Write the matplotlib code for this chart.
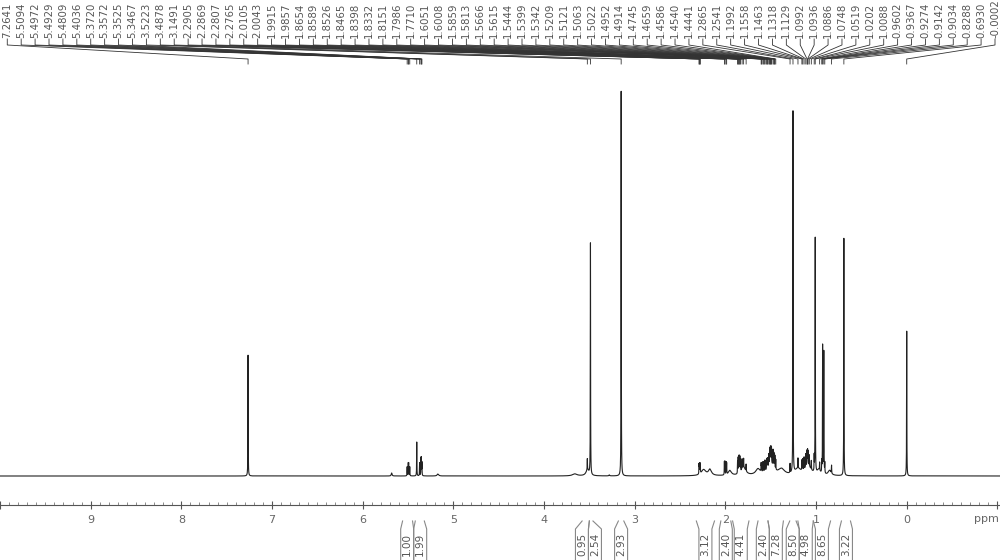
#!/usr/bin/env python3
# 1H NMR spectrum (CDCl3) with peak picking and integrals

import numpy as np
import matplotlib
matplotlib.use("Agg")
import matplotlib.pyplot as plt
from matplotlib.transforms import blended_transform_factory

#------------------------------------------------------------------------------
# Data
#------------------------------------------------------------------------------

# picked peaks [ppm]
peak_ppm = [
    7.2641, 5.5094, 5.4972, 5.4929, 5.4809, 5.4036, 5.3720, 5.3572, 5.3525,
    5.3467, 3.5223, 3.4878, 3.1491, 2.2905, 2.2869, 2.2807, 2.2765, 2.0105,
    2.0043, 1.9915, 1.9857, 1.8654, 1.8589, 1.8526, 1.8465, 1.8398, 1.8332,
    1.8151, 1.7986, 1.7710, 1.6051, 1.6008, 1.5859, 1.5813, 1.5666, 1.5615,
    1.5444, 1.5399, 1.5342, 1.5209, 1.5121, 1.5063, 1.5022, 1.4952, 1.4914,
    1.4745, 1.4659, 1.4586, 1.4540, 1.4441, 1.2865, 1.2541, 1.1992, 1.1558,
    1.1463, 1.1318, 1.1129, 1.0992, 1.0936, 1.0886, 1.0748, 1.0519, 1.0202,
    1.0088, 0.9602, 0.9367, 0.9274, 0.9142, 0.9034, 0.8288, 0.6930, -0.0002,
]

# peak heights (tallest line = 386)
peak_height = [
    121, 9, 12, 12, 9, 34, 13, 17, 17,
    13, 11, 232, 386, 9, 9, 9, 9, 13,
    13, 12, 11, 12, 15, 16, 16, 15, 12,
    10, 9, 7, 8, 8, 9, 9, 10, 10,
    9, 9, 9, 11, 12, 13, 14, 14, 14,
    16, 14, 13, 12, 10, 9, 362, 10, 10,
    11, 12, 13, 14, 14, 13, 11, 9, 15,
    235, 8, 11, 128, 122, 10, 8, 238, 145,
]

# broad, unpicked humps under the multiplets
hump_ppm    = [5.68, 5.17, 3.66, 3.52, 3.28, 2.24, 2.17, 1.95, 1.80, 1.64, 1.50, 1.38, 1.20, 1.09, 0.97, 0.85]
hump_height = [3, 2, 2, 6, 1, 6, 6, 5, 8, 6, 12, 6, 6, 10, 5, 5]
hump_width  = [0.005, 0.01, 0.03, 0.02, 0.005, 0.03, 0.02, 0.02, 0.03, 0.03, 0.04, 0.04, 0.04, 0.04, 0.02, 0.02]

# integrals [ppm from, ppm to, value]
int_from  = [5.56, 5.42, 3.58, 3.50, 3.18, 2.32, 2.05, 1.92, 1.64, 1.53, 1.29, 1.20, 1.03, 0.72]
int_to    = [5.45, 5.32, 3.50, 3.46, 3.12, 2.12, 1.94, 1.74, 1.53, 1.36, 1.22, 1.03, 0.84, 0.62]
int_value = [1.00, 1.99, 0.95, 2.54, 2.93, 3.12, 2.40, 4.41, 2.40, 7.28, 8.50, 4.98, 8.65, 3.22]

#------------------------------------------------------------------------------
# Spectrum
#------------------------------------------------------------------------------

X0, X1 = 9.997, -1.029
W, H = 1000, 560

ppm = np.linspace(X1, X0, 60000)
spec = np.zeros_like(ppm)
hw = 0.0015
for p, h in zip(peak_ppm, peak_height):
    spec += h * hw**2 / ((ppm - p)**2 + hw**2)
for p, h, w in zip(hump_ppm, hump_height, hump_width):
    spec += h * w**2 / ((ppm - p)**2 + w**2)

fig = plt.figure(figsize=(W / 100, H / 100), dpi=100)
ax = fig.add_axes([0, 55 / H, 1, 505 / H])

ax.plot(ppm, spec, color="#222222", lw=0.8)
ax.set_xlim(X0, X1)
ax.set_ylim(-29, 476)

for s in ["top", "left", "right"]:
    ax.spines[s].set_visible(False)
ax.spines["bottom"].set_color("#555555")
ax.spines["bottom"].set_linewidth(0.8)
ax.set_yticks([])

major = list(range(-1, 11))
ax.set_xticks(major)
ax.set_xticklabels(["" if i in (-1, 10) else str(i) for i in major])
ax.set_xticks(np.round(np.arange(-1, 10.01, 0.1), 1), minor=True)
ax.tick_params(axis="x", which="major", direction="inout", length=6, width=0.8,
               color="#555555", labelcolor="#666666", labelsize=8, pad=4)
ax.tick_params(axis="x", which="minor", direction="in", length=2.5, width=0.6,
               color="#777777")

#------------------------------------------------------------------------------
# Peak labels on top
#------------------------------------------------------------------------------

tr = blended_transform_factory(ax.transData, fig.transFigure)

def fy(px):
    return 1 - px / H

def ppm_at(px):
    return X0 + px / W * (X1 - X0)

def px_of(p):
    return (X0 - p) / (X0 - X1) * W

ax.text(ppm_at(999), fy(519), "ppm", ha="right", va="center", transform=tr,
        fontsize=8, color="#666666")

n = len(peak_ppm)
step = 988 / (n - 1)
for i, p in enumerate(peak_ppm):
    lx = ppm_at(7 + i * step)
    ax.plot([lx, lx, p, p], [fy(39), fy(45), fy(59), fy(64)], transform=tr,
            clip_on=False, color="#333333", lw=0.6)
    ax.text(lx, fy(38), f"{p:.4f}", rotation=90, ha="center", va="bottom",
            transform=tr, fontsize=7.3, color="#555555")

#------------------------------------------------------------------------------
# Integrals below the axis
#------------------------------------------------------------------------------

bw = 13
centres = [(px_of(a) + px_of(b)) / 2 for a, b in zip(int_from, int_to)]
for _ in range(100):
    for i in range(1, len(centres)):
        gap = centres[i] - centres[i - 1]
        if gap < bw:
            d = (bw - gap) / 2
            centres[i - 1] -= d
            centres[i] += d

for a, b, v, c in zip(int_from, int_to, int_value, centres):
    left, right = ppm_at(c - bw / 2), ppm_at(c + bw / 2)
    for top, edge in [(a, left), (b, right)]:
        ax.plot([top, edge, edge], [fy(521), fy(529), fy(565)], transform=tr,
                clip_on=False, color="#888888", lw=0.8)
    ax.text(ppm_at(c), fy(533), f"{v:.2f}", rotation=90, ha="center", va="top",
            transform=tr, fontsize=7.5, color="#555555")

fig.savefig("out.png", dpi=100)
